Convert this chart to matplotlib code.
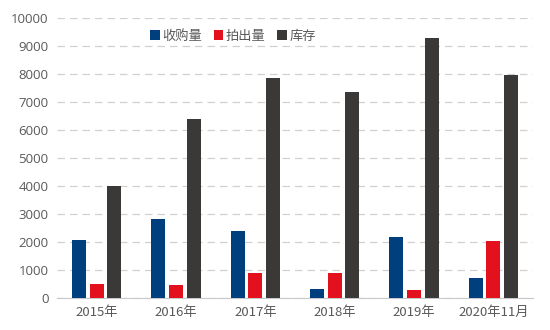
import numpy as np
import matplotlib.pyplot as plt

plt.rcParams['font.family'] = ['Open Sans', 'Noto Sans CJK SC', 'DejaVu Sans']

# 年度数据
years = ["2015年", "2016年", "2017年", "2018年", "2019年", "2020年11月"]
shougou = [2050, 2820, 2380, 300, 2180, 690]      # 收购量
paichu = [480, 440, 890, 870, 275, 2010]          # 拍出量
kucun = [3990, 6370, 7835, 7335, 9285, 7965]      # 库存

names = ["收购量", "拍出量", "库存"]
colors = ["#003F7D", "#E3101E", "#3B3838"]

fig = plt.figure(figsize=(5.5, 3.3), dpi=100)
ax = fig.add_axes([0.1036, 0.098, 0.8654, 0.848])

x = np.arange(len(years))
w = 0.176
step = 0.223
for i, (vals, name, c) in enumerate(zip([shougou, paichu, kucun], names, colors)):
    ax.bar(x + (i - 1) * step, vals, width=w, color=c, label=name, zorder=3)

ax.set_xlim(-0.5, len(years) - 0.5)
ax.set_ylim(0, 10000)
ax.set_yticks(range(0, 10001, 1000))
ax.yaxis.grid(True, color="#D0D0D0", linestyle=(0, (6, 4)), linewidth=0.9, zorder=0)

for s in ["top", "right", "left"]:
    ax.spines[s].set_visible(False)
ax.spines["bottom"].set_color("#C8C8C8")
ax.tick_params(axis="both", length=0, labelsize=9.5, colors="#595959", pad=6)
ax.set_xticks(x)
ax.set_xticklabels(years, family=['Noto Sans CJK SC', 'DejaVu Sans'])

leg = ax.legend(loc="upper center", bbox_to_anchor=(0.37, 1.0), ncol=3, frameon=False,
                handlelength=0.7, handleheight=0.7, handletextpad=0.2,
                columnspacing=0.9, prop={'family': 'Noto Sans CJK SC', 'size': 9.5})
for t in leg.get_texts():
    t.set_color("#595959")

fig.savefig("out.png", dpi=100)
